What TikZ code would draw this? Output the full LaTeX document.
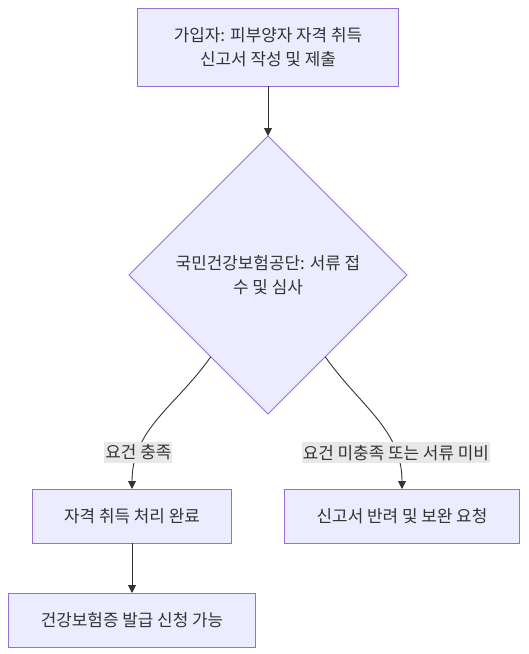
\documentclass[tikz,border=0pt]{standalone}
\usepackage{fontspec}
\setmainfont{Noto Sans CJK KR}
\usetikzlibrary{arrows.meta,positioning,shapes.geometric}
\definecolor{FlowFill}{HTML}{ECECFF}
\definecolor{FlowEdge}{HTML}{9370DB}
\definecolor{FlowInk}{HTML}{333333}
\definecolor{FlowTag}{HTML}{E8E8E8}
\tikzset{
  box/.style={draw=FlowEdge,fill=FlowFill,line width=1pt,align=center,
    minimum height=54pt,inner xsep=32pt,inner ysep=0pt,outer sep=0pt,
    text=FlowInk,font=\fontsize{16.9}{24}\selectfont},
  decision/.style={box,diamond,minimum width=278pt,minimum height=278pt,inner sep=0pt},
  flow/.style={-{Triangle[length=8pt,width=8pt]},line width=0.9pt,draw=FlowInk},
  tag/.style={fill=FlowTag,text=FlowInk,inner xsep=1pt,inner ysep=3pt,
    font=\fontsize{16.9}{19}\selectfont}
}
\begin{document}
\begin{tikzpicture}
  \useasboundingbox (0,0) rectangle (529pt,-654pt);
  \node[box,minimum height=78pt,inner xsep=36pt] (apply) at (268pt,-47pt) {가입자: 피부양자 자격 취득\\신고서 작성 및 제출};
  \node[decision,below=50pt of apply] (review) {국민건강보험공단: 서류 접\\수 및 심사};
  \node[box,below=75pt of review.south,xshift=-136pt] (done) {자격 취득 처리 완료};
  \node[box,below=75pt of review.south,xshift=134pt] (reject) {신고서 반려 및 보완 요청};
  \node[box,below=50pt of done] (card) {건강보험증 발급 신청 가능};
  \draw[flow] (apply)--(review);
  \draw[flow] (review) to[out=-125,in=90] node[tag,pos=0.77]{요건 충족} (done);
  \draw[flow] (review) to[out=-55,in=90] node[tag,pos=0.77]{요건 미충족 또는 서류 미비} (reject);
  \draw[flow] (done)--(card);
\end{tikzpicture}
\end{document}
